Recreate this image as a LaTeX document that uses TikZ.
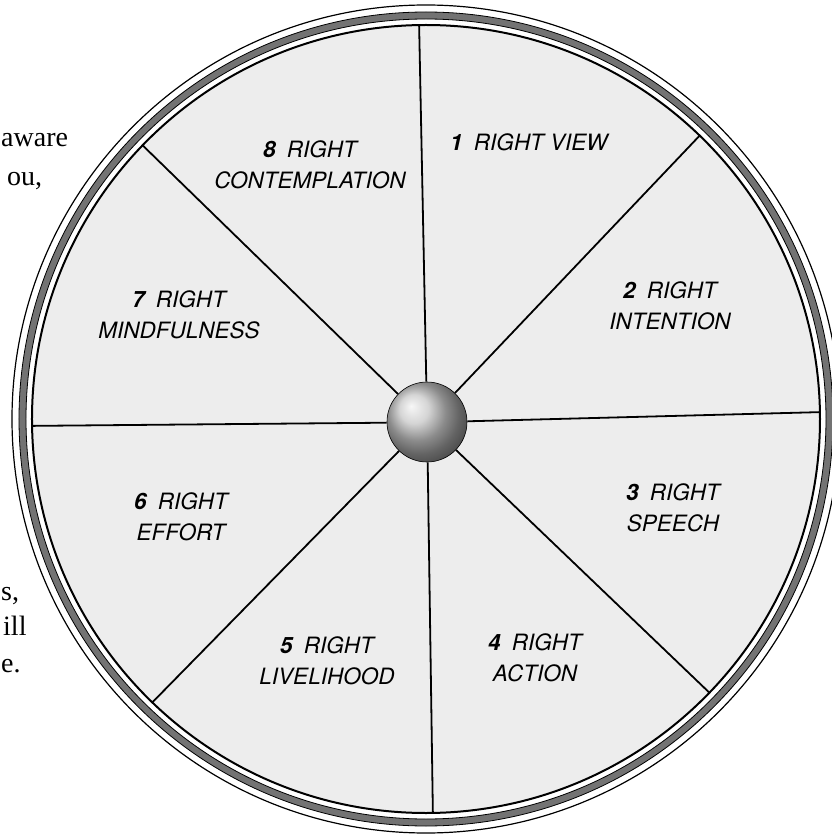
\documentclass[tikz,border=0pt]{standalone}
\usepackage{fontspec}
\setmainfont{Liberation Serif}
\setsansfont{TeX Gyre Heros}
\usetikzlibrary{positioning}
\usetikzlibrary{shadings}

\begin{document}
\begin{tikzpicture}[x=1pt,y=1pt,
        lbl/.style={font=\sffamily\itshape\fontsize{22.5}{31}\selectfont,align=center,inner sep=0pt},
        frag/.style={font=\fontsize{28}{37}\selectfont,anchor=base west,inner sep=0pt},
        spoke/.style={line width=1.8pt}]
            \useasboundingbox (-426,-419) rectangle (406,419);
            \clip (-426,-419) rectangle (406,419);
            % rim of the wheel
            \fill[black!7] (0,0) circle[radius=394];
            \draw[line width=1.2pt] (0,0) circle[radius=414];
            \filldraw[even odd rule,line width=0.8pt,fill=black!55] (0,0) circle[radius=407] (0,0) circle[radius=400];
            \draw[line width=2pt] (0,0) circle[radius=394];
            % hub and spokes
            \node[circle,draw,line width=0.6pt,inner sep=0pt,minimum size=80pt,shading=ball,ball color=black!22] (hub) at (1,-3) {};
            \foreach \a in {1,46,...,316}
                \draw[spoke] (hub.\a) -- (\a:394);
            % the eight parts
            \node[lbl] (l1) at (103,277) {\textbf{1}\enspace RIGHT VIEW};
            \node[lbl] (l2) at (244,113) {\textbf{2}\enspace RIGHT\\INTENTION};
            \node[lbl] (l3) at (247,-89) {\textbf{3}\enspace RIGHT\\SPEECH};
            \node[lbl] (l4) at (109,-239) {\textbf{4}\enspace RIGHT\\ACTION};
            \node[lbl] (l5) at (-99,-242) {\textbf{5}\enspace RIGHT\\LIVELIHOOD};
            \node[lbl] (l6) at (-245,-98) {\textbf{6}\enspace RIGHT\\EFFORT};
            \node[lbl] (l7) at (-247,104) {\textbf{7}\enspace RIGHT\\MINDFULNESS};
            \node[lbl] (l8) at (-116,254) {\textbf{8}\enspace RIGHT\\CONTEMPLATION};
            % ends of the page text
            \node[frag] (f1) at (-425,272) {aware};
            \node[frag] (f2) at (-419,233) {ou,};
            \node[frag] (f3) at (-425,-181) {s,};
            \node[frag] (f4) at (-423,-216) {ill};
            \node[frag] (f5) at (-425,-253) {e.};
        \end{tikzpicture}
\end{document}
